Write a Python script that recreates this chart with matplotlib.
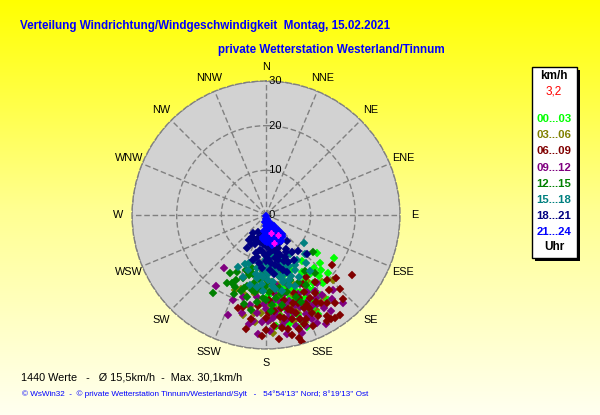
import numpy as np
import matplotlib
matplotlib.use("Agg")
import matplotlib.pyplot as plt

plt.rcParams['font.family'] = ['Liberation Sans', 'DejaVu Sans']

# ---- data: wind direction (deg, from N clockwise) and speed (km/h), per 3h block
dir_00_03 = [127, 122, 132, 133, 160, 175, 161, 159, 150, 165, 155, 145, 170, 160, 140, 152, 168, 148, 162,
             175, 138, 157, 165, 146, 172, 155, 142, 150, 163, 135, 158, 168, 178, 152, 144, 165, 160,
             156, 162, 148, 166, 153, 170, 143, 158, 139, 164]
spd_00_03 = [14.2, 18.0, 16.2, 19.0, 26.6, 24.9, 25.3, 18.0, 17.0, 19.5, 20.5, 18.5, 17.5, 15.5, 20.0, 22.0, 21.5,
             15.0, 23.5, 20.0, 16.0, 24.0, 16.5, 21.5, 22.8, 13.5, 13.0, 19.2, 14.0, 17.5, 21.0, 25.0, 18.0, 25.0,
             23.5, 12.5, 20.3, 18.8, 17.2, 19.8, 22.5, 23.2, 19.0, 16.5, 22.0, 18.0, 26.0]

dir_03_06 = [176.6, 202.5, 199, 187, 134, 170, 175, 165, 180, 160, 172, 168, 178, 185, 155, 162, 150, 182, 170,
             158, 190, 195, 165, 175, 145, 148, 160, 186, 152, 140, 173, 163, 157, 193, 178,
             168, 173, 163, 178, 158, 183, 167, 153, 176, 188, 149, 171]
spd_03_06 = [26.4, 18.2, 17.5, 22.1, 20.9, 19.3, 20.5, 21.0, 18.5, 20.0, 22.5, 17.5, 23.5, 19.5, 21.5, 23.0, 19.0,
             16.5, 16.0, 17.0, 21.0, 18.5, 24.5, 25.0, 22.5, 17.5, 25.5, 24.0, 24.0, 19.5, 18.0, 19.2, 22.3, 23.0,
             15.0, 20.6, 21.8, 21.8, 20.0, 19.8, 22.0, 23.8, 20.8, 17.0, 17.8, 23.0, 24.2]

dir_06_09 = [125, 164, 127, 197, 194, 180, 143.5, 146, 137.5, 148, 160, 165, 155, 170, 150, 162, 175, 158, 168,
             145, 153, 172, 164, 180, 185, 178, 148, 140, 157, 168, 160, 152, 175, 188, 190, 144, 137, 135, 163,
             156, 171, 149, 166, 182, 159, 174, 147, 132,
             158, 163, 152, 167, 172, 155, 161, 148, 176, 169, 154, 142, 178, 150, 165]
spd_06_09 = [23.6, 29.5, 18.5, 21.8, 21.2, 25.7, 27.8, 27.7, 25.5, 27.4, 21.0, 22.0, 23.0, 23.5, 22.5, 24.5, 21.5,
             20.0, 19.5, 24.0, 25.5, 25.5, 26.5, 23.0, 20.5, 19.0, 20.5, 22.0, 27.0, 27.5, 18.5, 17.5, 17.0, 23.5,
             26.0, 18.5, 20.0, 23.5, 23.0, 21.8, 21.0, 26.5, 24.0, 27.0, 25.0, 28.0, 16.5, 21.0,
             22.5, 20.5, 21.0, 21.5, 23.0, 24.2, 25.8, 23.2, 24.8, 26.0, 19.2, 25.0, 22.0, 27.5, 28.5]

dir_09_12 = [218, 215, 201, 201, 189, 170, 151, 139, 138, 198, 165, 170, 160, 175, 155, 168, 180, 185, 150,
             162, 172, 158, 176, 182, 190, 145, 148, 156, 166, 174, 163, 178, 186, 194, 152, 142, 160, 168,
             184, 154, 147, 170, 176, 164, 158, 196, 188, 172, 143,
             162, 167, 153, 171, 179, 157, 149, 165, 181, 174, 146, 159, 187, 163, 155]
spd_09_12 = [15.1, 19.4, 20.4, 23.9, 24.7, 27.0, 27.9, 26.2, 22.5, 13.4, 20.0, 21.0, 22.0, 22.5, 21.5, 23.5, 21.0,
             22.0, 23.0, 24.5, 25.0, 19.0, 19.5, 24.0, 20.5, 22.0, 24.5, 25.5, 18.0, 17.5, 16.5, 26.0, 18.5, 22.5,
             19.5, 24.0, 26.5, 20.8, 26.8, 17.2, 20.2, 24.0, 23.2, 22.8, 23.8, 19.0, 16.0, 15.8, 19.0,
             21.2, 22.2, 22.8, 19.8, 23.8, 24.8, 21.8, 25.8, 20.0, 21.6, 26.0, 20.6, 24.0, 27.6, 26.8]

dir_12_15 = [214, 206.6, 195, 128, 185, 190, 180, 195, 200, 175, 170, 188, 198, 205, 182, 192, 178, 168, 160,
             165, 173, 186, 202, 210, 155, 150, 160, 176, 194, 183, 172, 200, 207, 189, 145, 140, 163, 212,
             180, 196, 170, 158, 184, 191, 178, 197, 187, 174, 181, 169, 203, 193, 163, 177]
spd_12_15 = [21.1, 17.0, 12.3, 13.4, 14.6, 15.5, 16.0, 16.5, 15.0, 15.0, 16.5, 17.5, 18.0, 16.0, 18.5, 13.5, 13.0,
             14.0, 15.5, 17.8, 18.8, 19.5, 19.0, 17.5, 16.8, 18.0, 19.5, 20.2, 20.5, 12.5, 11.8, 13.0, 14.2, 21.5,
             15.2, 17.0, 13.2, 15.2, 19.0, 14.0, 20.5, 21.0, 16.8, 17.0, 17.2, 17.2, 14.0, 16.2, 14.0, 18.0,
             17.6, 18.8, 16.0, 21.5]

dir_15_18 = [126, 199.5, 208, 200, 170, 175, 165, 160, 180, 185, 155, 150, 168, 178, 190, 195, 162, 172, 158,
             145, 140, 183, 166, 175, 188, 193, 152, 170, 180, 162, 148, 135, 178, 186, 156, 164, 174, 198, 203,
             142, 158, 168, 182, 170, 176, 164, 183, 158, 166, 152, 187, 173, 179, 161, 190]
spd_15_18 = [10.6, 11.4, 13.2, 14.8, 11.4, 10.0, 12.0, 13.0, 12.5, 13.5, 11.5, 13.0, 14.0, 14.5, 12.0, 10.5, 10.2,
             12.8, 14.8, 12.2, 14.0, 15.5, 15.5, 16.0, 14.2, 16.0, 15.6, 9.2, 9.8, 16.5, 10.2, 12.5, 13.2, 11.0,
             12.6, 13.9, 15.0, 13.0, 12.0, 16.0, 17.2, 17.5, 17.0, 13.0, 12.0, 11.5, 14.0, 12.0, 14.8, 14.0,
             16.2, 16.8, 11.0, 15.5, 13.5]

dir_18_21 = [205, 191, 204, 210, 190, 172, 161, 155, 170, 133.6, 138, 198, 185, 178, 195, 200, 182, 175, 168,
             160, 150, 145, 165, 180, 188, 158, 148, 176, 163, 192, 207, 213, 186, 170, 155, 166, 184, 152, 172,
             160, 142, 196, 215, 212, 178, 170, 186, 162, 174, 181, 193, 166, 156]
spd_18_21 = [4.2, 4.8, 6.1, 8.5, 7.9, 6.8, 9.5, 11.6, 11.4, 12.7, 10.8, 5.5, 6.5, 7.2, 8.8, 7.0, 9.0, 8.5, 9.8,
             7.8, 8.8, 10.0, 10.5, 10.2, 10.8, 11.0, 12.0, 12.3, 12.8, 9.6, 7.4, 6.8, 5.8, 5.6, 6.9, 8.2, 11.8,
             9.4, 13.3, 13.6, 7.5, 10.4, 5.0, 5.8, 9.8, 8.0, 8.0, 9.0, 10.8, 6.0, 6.2, 12.0, 10.4]

dir_21_24 = [180, 175, 165, 185, 160, 172, 150, 182, 158, 168, 145, 178, 155, 186, 162, 148, 172, 140, 180,
             153, 165, 188, 145, 158, 175, 140, 168, 150, 183, 160, 145, 172, 155, 165, 178, 150, 142, 186, 162, 170,
             170, 160, 152, 176, 182, 168, 157, 147]
spd_21_24 = [0.3, 0.8, 1.2, 1.5, 1.8, 2.0, 2.2, 2.5, 2.7, 3.0, 3.1, 3.3, 3.5, 3.6, 3.8, 4.0, 4.1, 4.3, 4.5, 4.6,
             4.8, 4.9, 5.0, 5.2, 5.3, 5.5, 5.6, 5.8, 5.9, 6.0, 6.1, 6.2, 6.4, 6.6, 6.0, 6.7, 5.9, 5.5, 5.0, 3.8,
             1.0, 2.8, 3.8, 4.2, 5.0, 6.9, 6.5, 5.5]

dir_latest = [165, 149, 164]
spd_latest = [4.2, 5.2, 6.5]

groups = [
    ("00...03", "#00FF00", dir_00_03, spd_00_03),
    ("03...06", "#808000", dir_03_06, spd_03_06),
    ("06...09", "#800000", dir_06_09, spd_06_09),
    ("09...12", "#800080", dir_09_12, spd_09_12),
    ("12...15", "#008000", dir_12_15, spd_12_15),
    ("15...18", "#008080", dir_15_18, spd_15_18),
    ("18...21", "#000080", dir_18_21, spd_18_21),
    ("21...24", "#0000FF", dir_21_24, spd_21_24),
]
draw_order = [1, 0, 3, 2, 4, 5, 6, 7]

compass = ["N", "NNE", "NE", "ENE", "E", "ESE", "SE", "SSE",
           "S", "SSW", "SW", "WSW", "W", "WNW", "NW", "NNW"]
rings = [10, 20, 30]
current_speed = "3,2"
footer1 = "1440 Werte   -   \u00d8 15,5km/h  -  Max. 30,1km/h"
footer2 = ("\u00a9 WsWin32  -  \u00a9 private Wetterstation Tinnum/Westerland/Sylt   -   "
           "54\u00b054'13'' Nord; 8\u00b019'13'' Ost")

W, H = 600, 415
fig = plt.figure(figsize=(W / 100, H / 100), dpi=100)

# yellow gradient background
bg = fig.add_axes([0, 0, 1, 1])
grad = np.linspace(0, 1, 256).reshape(-1, 1)
cmap = matplotlib.colors.LinearSegmentedColormap.from_list("yl", ["#FFFF00", "#FFFF90", "#FFFFF0"])
bg.imshow(grad, aspect='auto', cmap=cmap, extent=[0, 1, 0, 1], origin='upper')
bg.set_axis_off()

# polar axes, centre (266,215) px, radius 134 px
cx, cy, rad = 266, 215, 134
ax = fig.add_axes([(cx - rad) / W, 1 - (cy + rad) / H, 2 * rad / W, 2 * rad / H], projection='polar')
ax.set_theta_zero_location('N')
ax.set_theta_direction(-1)
ax.set_ylim(0, 30)
ax.set_facecolor("#D2D2D2")
ax.spines['polar'].set_linestyle((0, (4, 2)))
ax.spines['polar'].set_color("#808080")
ax.spines['polar'].set_linewidth(1.0)
ax.set_xticks(np.deg2rad(np.arange(0, 360, 22.5)))
ax.set_yticks(rings)
ax.set_xticklabels([])
ax.set_yticklabels([])
ax.grid(True, color="#808080", linestyle=(0, (4, 2)), linewidth=1.0)
ax.tick_params(length=0)

for gi in draw_order:
    lab, col, d, s = groups[gi]
    ax.plot(np.deg2rad(d), s, linestyle='none', marker='D', markersize=4.4,
            markerfacecolor=col, markeredgecolor=col, markeredgewidth=0.3)
ax.plot(np.deg2rad(dir_latest), spd_latest, linestyle='none', marker='P', markersize=3.5,
        color="#FF00FF")

# ring labels
for r in [0] + rings:
    ax.text(np.deg2rad(0), r, " " + str(r), ha='left', va='center', fontsize=8, color='black',
            clip_on=False)

# compass labels
for i, c in enumerate(compass):
    ax.text(np.deg2rad(i * 22.5), 33.2, c, ha='center', va='center', fontsize=7.8, clip_on=False)

# titles
fig.text(20 / W, 1 - 26 / H, "Verteilung Windrichtung/Windgeschwindigkeit  Montag, 15.02.2021",
         color='#0000FF', fontsize=8.35, fontweight='bold', ha='left', va='center')
fig.text(218 / W, 1 - 50 / H, "private Wetterstation Westerland/Tinnum",
         color='#0000FF', fontsize=8.35, fontweight='bold', ha='left', va='center')

# legend box with shadow
bx0, by0, bx1, by1 = 532, 67, 577, 258
fig.patches.append(matplotlib.patches.Rectangle((bx0 / W + 3 / W, 1 - (by1 + 3) / H), (bx1 - bx0) / W,
                                                (by1 - by0) / H, transform=fig.transFigure,
                                                facecolor='black', edgecolor='none'))
fig.patches.append(matplotlib.patches.Rectangle((bx0 / W, 1 - by1 / H), (bx1 - bx0) / W, (by1 - by0) / H,
                                                transform=fig.transFigure, facecolor='white',
                                                edgecolor='black', linewidth=1.0))
lx = 554 / W
fig.text(lx, 1 - 76 / H, "km/h", ha='center', va='center', fontsize=8.5, fontweight='bold')
fig.text(lx, 1 - 92 / H, current_speed, ha='center', va='center', fontsize=8.5, color='#FF0000')
for i, (lab, col, d, s) in enumerate(groups):
    fig.text(lx, 1 - (119 + i * 16.2) / H, lab, ha='center', va='center', fontsize=8.2,
             fontweight='bold', color=col)
fig.text(lx, 1 - 247 / H, "Uhr", ha='center', va='center', fontsize=8.5, fontweight='bold')

# footer
fig.text(21 / W, 1 - 377 / H, footer1, ha='left', va='center', fontsize=7.8)
fig.text(22 / W, 1 - 394 / H, footer2, ha='left', va='center', fontsize=5.9, color='#0000FF')

fig.savefig("out.png", dpi=100)
